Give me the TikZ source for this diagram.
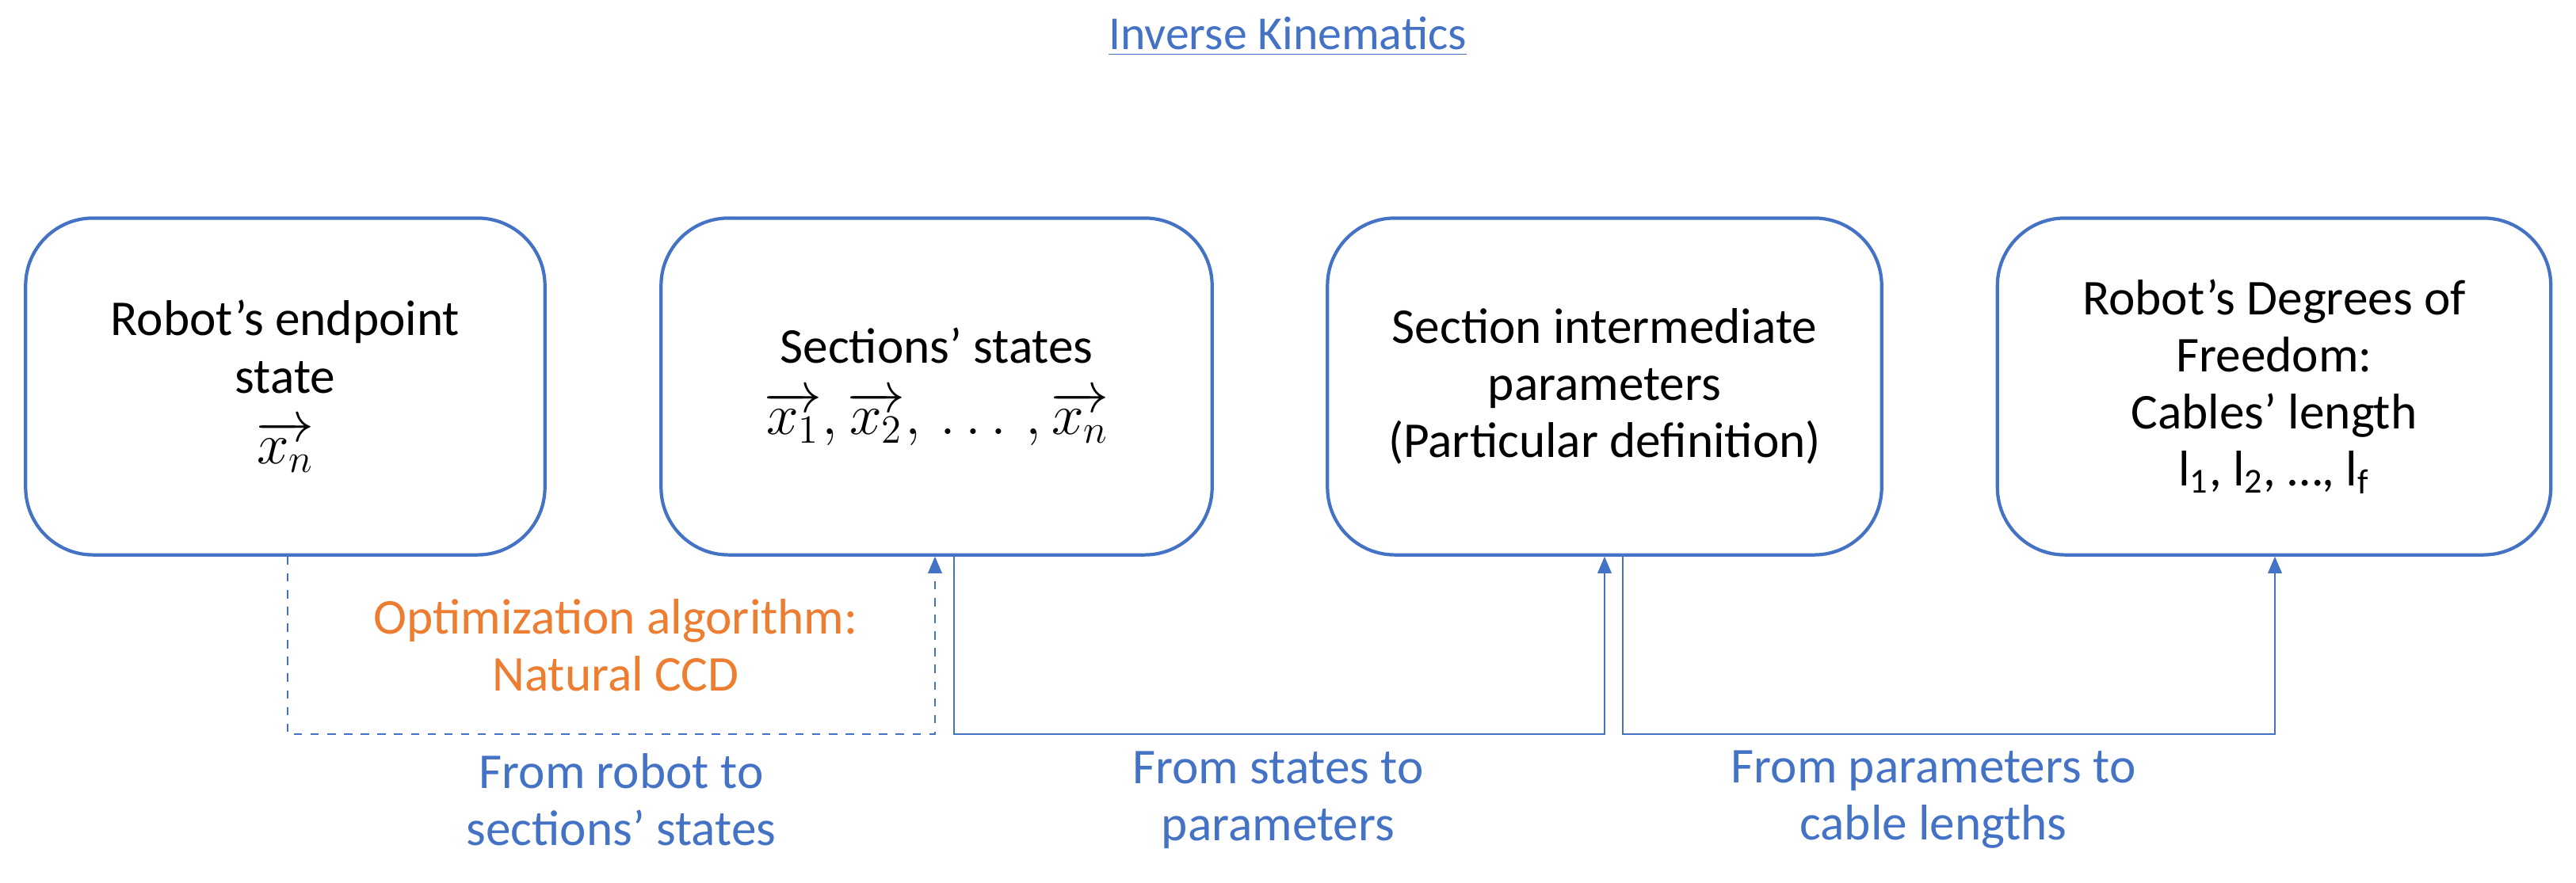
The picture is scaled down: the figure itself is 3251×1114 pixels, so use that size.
\documentclass[tikz,border=0pt]{standalone}
\usepackage{fontspec}
\setmainfont{Carlito}
\usetikzlibrary{arrows.meta}
\definecolor{oblue}{HTML}{4472C4}
\definecolor{oorange}{HTML}{ED7D31}
\begin{document}
\begin{tikzpicture}[x=0.01cm,y=-0.01cm,
  box/.style={draw=oblue,line width=1.2pt,rounded corners=0.85cm,minimum width=6.55cm,minimum height=4.25cm,align=center,font=\fontsize{18}{20.5}\selectfont},
  lbl/.style={align=center,font=\fontsize{18}{20.5}\selectfont},
  conn/.style={draw=oblue,line width=0.5pt},
  tip/.style={-{Triangle[length=6pt,width=5pt]}}]
\useasboundingbox (0,0) rectangle (3251,1114);
\node[text=oblue,font=\fontsize{17}{20}\selectfont] (title) at (1625,46) {\underline{Inverse Kinematics}};
\node[box] (b1) at (360,488) {Robot’s endpoint\\state\\[5pt]{\fontsize{21}{24}\selectfont$\overrightarrow{x_n}$}};
\node[box,minimum width=6.95cm] (b2) at (1182,488) {Sections’ states\\[5pt]{\fontsize{21}{24}\selectfont$\overrightarrow{x_1},\overrightarrow{x_2},\,\ldots\,,\overrightarrow{x_n}$}};
\node[box,minimum width=6.99cm] (b3) at (2025,488) {Section intermediate\\parameters\\(Particular definition)};
\node[box,minimum width=6.98cm] (b4) at (2870,488) {Robot’s Degrees of\\Freedom:\\Cables’ length\\l\textsubscript{1}, l\textsubscript{2}, …, l\textsubscript{f}};
\coordinate (d1) at (363,927); \coordinate (d2) at (1180,927);
\draw[conn,dashed,tip] (b1.south -| d1) -- (d1) -- (d2) -- (b2.south -| d2);
\coordinate (s1) at (1204,927); \coordinate (s2) at (2025,927);
\draw[conn,tip] (b2.south -| s1) -- (s1) -- (s2) -- (b3.south -| s2);
\coordinate (t1) at (2048,927); \coordinate (t2) at (2871,927);
\draw[conn,tip] (b3.south -| t1) -- (t1) -- (t2) -- (b4.south -| t2);
\node[lbl,text=oorange] (opt) at (777,815) {Optimization algorithm:\\Natural CCD};
\node[lbl,text=oblue] (l1) at (784,1010) {From robot to\\sections’ states};
\node[lbl,text=oblue] (l2) at (1613,1010) {From states to\\parameters};
\node[lbl,text=oblue] (l3) at (2440,1010) {From parameters to\\cable lengths};
\end{tikzpicture}
\end{document}
